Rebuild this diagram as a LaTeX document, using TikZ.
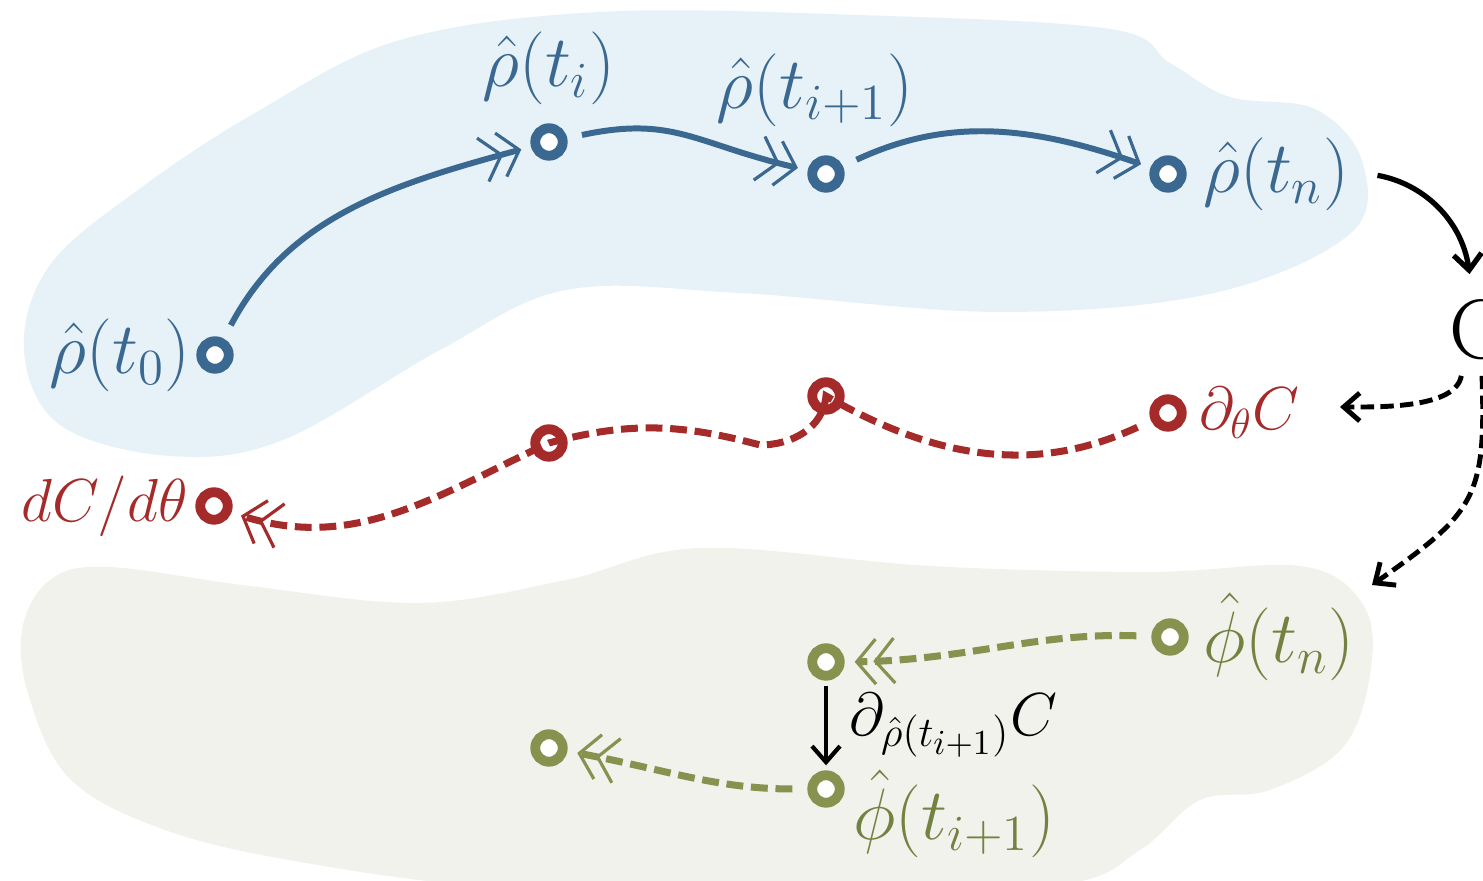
\documentclass[tikz,border=0pt]{standalone}
\usepackage{amsfonts,amssymb,amsmath}
\usepackage{xcolor}
\usepackage{tikz}
\usetikzlibrary{arrows.meta,positioning,bending}
\definecolor{rhoblue}{HTML}{3A6891}
\definecolor{gradred}{HTML}{A52A2A}
\definecolor{adjgreen}{HTML}{87924F}
\definecolor{adjtext}{HTML}{748241}
\definecolor{blobblue}{HTML}{E6F2F7}
\definecolor{blobgreen}{HTML}{F1F2EC}

\begin{document}
\begin{tikzpicture}[font=\LARGE,
dot/.style={circle,draw=#1,fill=white,line width=2.8pt,minimum size=2.75mm,inner sep=0pt},
statelab/.style={font=\fontsize{19.2}{23}\selectfont,inner sep=2mm},
dbl/.style={-{Straight Barb[length=1.9mm,width=4.5mm,line width=0.9pt,sep=-0.4mm]Straight Barb[length=1.9mm,width=4.5mm,line width=0.9pt]},shorten <=1.5mm,shorten >=1mm},
blk/.style={-{Straight Barb[length=1.6mm,width=2.8mm]}},
fwd/.style={rhoblue,line width=1.7pt,dbl},
bwd/.style={line width=2pt,dash pattern=on 4.8pt off 2.2pt,dbl},
cdash/.style={black,line width=1.4pt,dash pattern=on 3.8pt off 1.8pt,blk}]
\useasboundingbox(0,0)rectangle(14.83,8.81);
\clip(0,0)rectangle(14.83,8.81);
\fill[blobblue]plot[smooth cycle,tension=0.6]coordinates{(6.00,8.69)(8.58,8.66)(11.10,8.52)(11.70,8.18)(12.30,7.84)(13.15,7.72)(13.62,7.20)(13.51,6.48)(12.14,5.88)(10.00,5.69)(7.40,5.88)(5.66,5.91)(4.40,5.31)(2.83,4.41)(1.70,4.25)(0.60,4.56)(0.24,5.31)(0.50,6.16)(1.42,6.94)(2.60,7.71)(4.00,8.41)};
\fill[blobgreen]plot[smooth cycle,tension=0.6]coordinates{(1.08,3.14)(2.50,2.95)(4.20,2.78)(5.66,3.01)(7.00,3.33)(9.30,3.15)(11.50,3.09)(13.00,3.15)(13.60,2.81)(13.72,2.21)(13.45,1.36)(12.70,0.91)(12.00,0.81)(11.40,0.31)(10.60,-0.04)(8.00,-0.19)(5.00,-0.07)(3.00,0.19)(1.65,0.51)(0.71,1.01)(0.30,1.81)(0.22,2.51)(0.50,3.01)};

\node[dot=rhoblue](r0)at(2.15,5.26){};
\node[dot=rhoblue](ri)at(5.49,7.39){};
\node[dot=rhoblue](rii)at(8.26,7.07){};
\node[dot=rhoblue](rn)at(11.68,7.07){};
\node[statelab,rhoblue,left=-1.5mm of r0]{$\hat\rho(t_0)$};
\node[statelab,rhoblue,above=-0.2mm of ri]{$\hat\rho(t_i)$};
\node[statelab,rhoblue,above=0.8mm of rii,xshift=-1.1mm]{$\hat\rho(t_{i+1})$};
\node[statelab,rhoblue,right=-0.4mm of rn](rnlab){$\hat\rho(t_n)$};
\node[font=\fontsize{24}{28}\selectfont,inner sep=1.5mm](C)at(14.78,5.51){C};

\node[dot=gradred](dth)at(11.68,4.68){};
\node[dot=gradred](m2)at(8.26,4.85){};
\node[dot=gradred](m1)at(5.49,4.38){};
\node[dot=gradred](dCdt)at(2.14,3.75){};
\node[gradred,right=0pt of dth](dthlab){$\partial_\theta C$};
\node[gradred,left=-0.5mm of dCdt]{$dC/d\theta$};
\coordinate(rdip)at(7.6,4.36);
\coordinate(dthend)at(13.40,4.74);

\node[dot=adjgreen](phin)at(11.70,2.44){};
\node[dot=adjgreen](phia)at(8.26,2.19){};
\node[dot=adjgreen](phib)at(8.26,0.92){};
\node[dot=adjgreen](phic)at(5.49,1.33){};
\node[statelab,adjtext,right=-0.6mm of phin]{$\hat\phi(t_n)$};
\node[statelab,adjtext,right=-1.2mm of phib,yshift=-2.5mm]{$\hat\phi(t_{i+1})$};
\coordinate(gblob)at(13.72,2.96);

\draw[fwd](r0)to[out=62,in=195](ri);
\draw[fwd](ri)to[out=12,in=168,looseness=1.2](rii);
\draw[fwd](rii)to[out=25,in=160](rn);
\draw[black,line width=1.5pt,blk,shorten <=0.8mm,shorten >=1mm](rnlab.east)to[out=-10,in=90](C.100);
\draw[cdash](C.250)to[out=-100,in=0,looseness=0.7](dthend);
\draw[cdash](C.275)to[out=-88,in=35,looseness=1.35](gblob);

\draw[bwd,gradred](dth)to[out=205,in=-30](m2.center)to[out=-95,in=0](rdip)to[out=165,in=15](m1.center)to[out=205,in=-20](dCdt);
\draw[bwd,adjgreen](phin)to[out=178,in=0](phia);
\draw[bwd,adjgreen](phib)to[out=180,in=-10](phic);
\draw[black,line width=1.2pt,blk,shorten <=0.5mm,shorten >=0.5mm](phia)--(phib)node[midway,right=1mm]{$\partial_{\hat\rho(t_{i+1})}C$};
\end{tikzpicture}
\end{document}
